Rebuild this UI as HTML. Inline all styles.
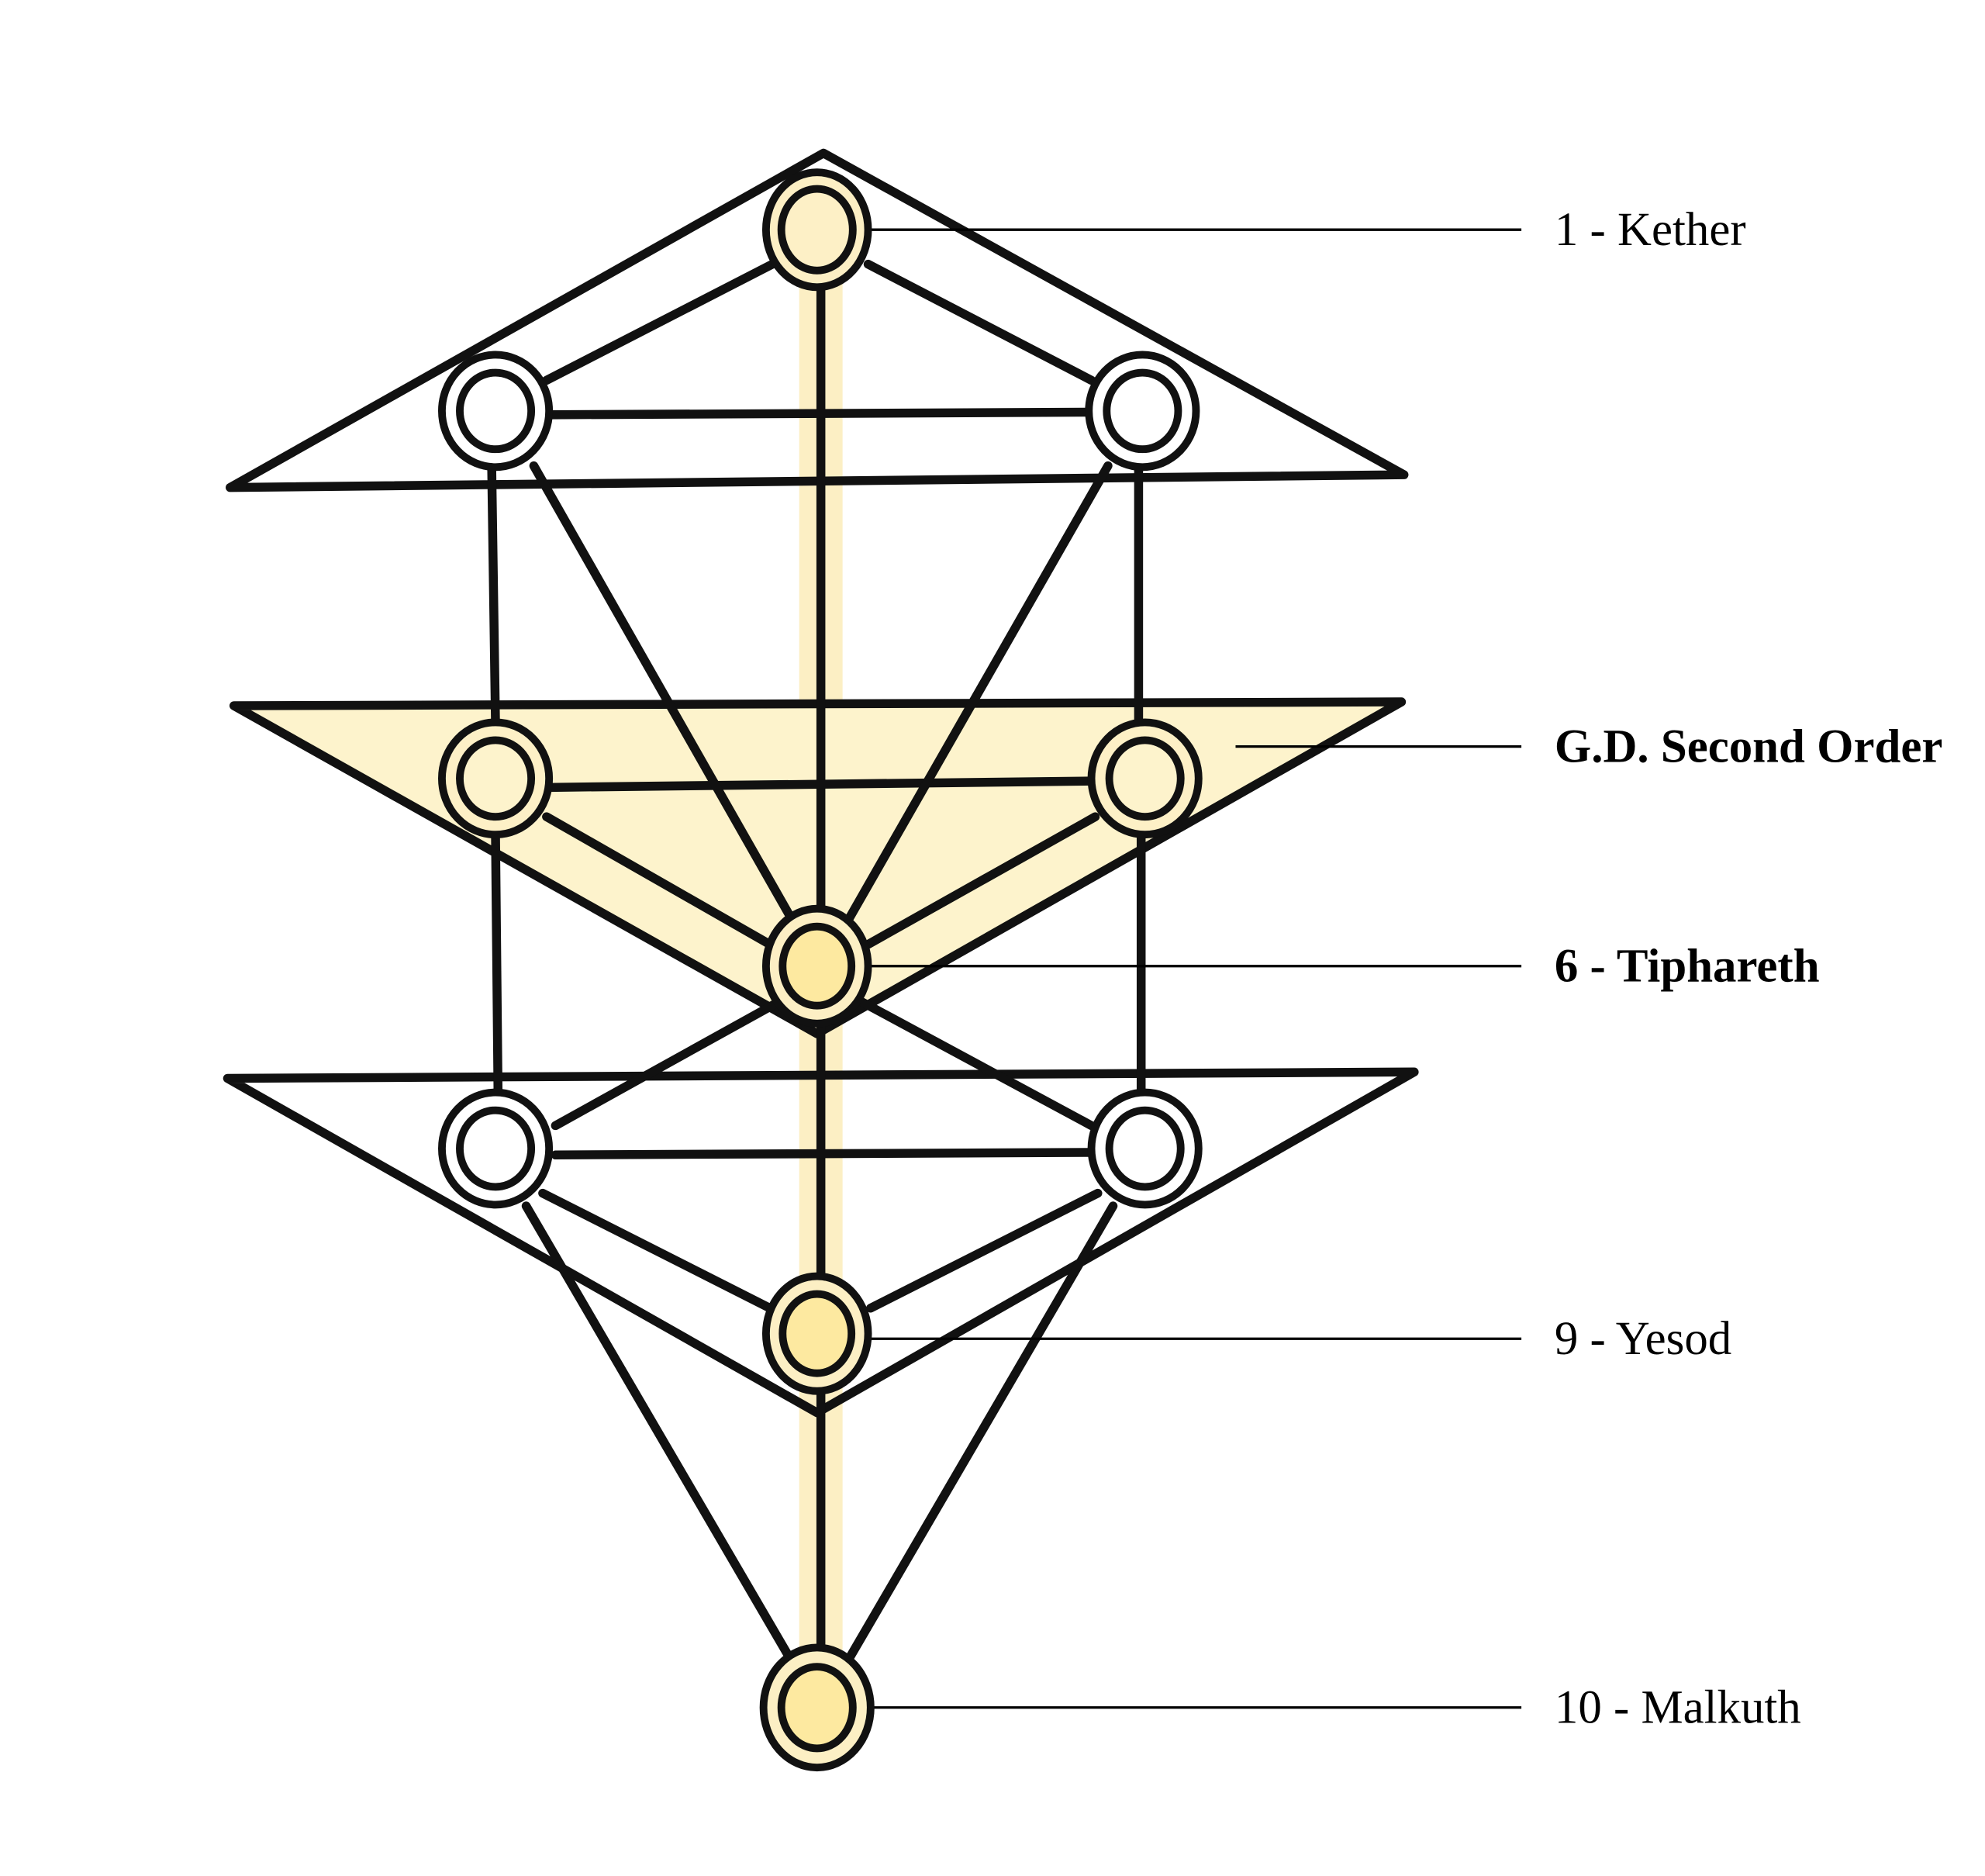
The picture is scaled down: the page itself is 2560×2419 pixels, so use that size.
<!DOCTYPE html>
<html><head><style>
html,body{margin:0;padding:0;background:#fff;}
svg{display:block;}
text{font-family:"Liberation Serif",serif;font-size:37px;fill:#000;}
</style></head><body>
<svg width="2560" height="2419" viewBox="0 0 1555 1470" xmlns="http://www.w3.org/2000/svg">
<rect width="1555" height="1470" fill="#fff"/>
<rect x="626" y="220" width="34" height="1135" fill="#fcefc4"/>
<polygon points="183,553 1098,550 640,810" fill="#fdf3cc"/>
<g stroke="#111" stroke-width="7" fill="none" stroke-linejoin="round" stroke-linecap="round">
<polygon points="645,120 1100,372 180,382"/>
<polygon points="183,553 1098,550 640,810"/>
<polygon points="178,845 1108,840 640,1107"/>
<line x1="643" y1="222" x2="643" y2="1300"/>
<line x1="605" y1="207" x2="428" y2="298"/>
<line x1="680" y1="207" x2="855" y2="298"/>
<line x1="430" y1="325" x2="850" y2="323"/>
<line x1="430" y1="617" x2="855" y2="612"/>
<line x1="435" y1="905" x2="855" y2="903"/>
<line x1="385" y1="365" x2="388" y2="568"/>
<line x1="892" y1="365" x2="892" y2="568"/>
<line x1="388" y1="655" x2="390" y2="858"/>
<line x1="894" y1="655" x2="894" y2="858"/>
<line x1="418" y1="365" x2="620" y2="720"/>
<line x1="868" y1="365" x2="665" y2="720"/>
<line x1="428" y1="640" x2="603" y2="740"/>
<line x1="858" y1="640" x2="680" y2="740"/>
<line x1="610" y1="785" x2="435" y2="882"/>
<line x1="675" y1="785" x2="855" y2="882"/>
<line x1="425" y1="935" x2="603" y2="1025"/>
<line x1="860" y1="935" x2="682" y2="1025"/>
<line x1="412" y1="945" x2="622" y2="1305"/>
<line x1="872" y1="945" x2="662" y2="1305"/>
</g>
<g stroke="#000" stroke-width="2">
<line x1="668" y1="180" x2="1192" y2="180"/>
<line x1="968" y1="585" x2="1192" y2="585"/>
<line x1="668" y1="757" x2="1192" y2="757"/>
<line x1="668" y1="1049" x2="1192" y2="1049"/>
<line x1="668" y1="1338" x2="1192" y2="1338"/>
</g>
<g stroke="#111" stroke-width="6">
<ellipse cx="640" cy="180" rx="40" ry="45" fill="#fcefc4"/>
<ellipse cx="640" cy="180" rx="28" ry="32" fill="#fdf0c6"/>
<ellipse cx="388" cy="322" rx="42" ry="44" fill="#fff"/>
<ellipse cx="388" cy="322" rx="28" ry="30" fill="#fff"/>
<ellipse cx="895" cy="322" rx="42" ry="44" fill="#fff"/>
<ellipse cx="895" cy="322" rx="28" ry="30" fill="#fff"/>
<ellipse cx="388" cy="610" rx="42" ry="44" fill="#fdf0c6"/>
<ellipse cx="388" cy="610" rx="28" ry="30" fill="#fdf3cc"/>
<ellipse cx="897" cy="610" rx="42" ry="44" fill="#fdf0c6"/>
<ellipse cx="897" cy="610" rx="28" ry="30" fill="#fdf3cc"/>
<ellipse cx="640" cy="757" rx="40" ry="45" fill="#fcefc4"/>
<ellipse cx="640" cy="757" rx="27" ry="31" fill="#fde9a0"/>
<ellipse cx="388" cy="900" rx="42" ry="44" fill="#fff"/>
<ellipse cx="388" cy="900" rx="28" ry="30" fill="#fff"/>
<ellipse cx="897" cy="900" rx="42" ry="44" fill="#fff"/>
<ellipse cx="897" cy="900" rx="28" ry="30" fill="#fff"/>
<ellipse cx="640" cy="1045" rx="40" ry="45" fill="#fcefc4"/>
<ellipse cx="640" cy="1045" rx="27" ry="31" fill="#fde9a0"/>
<ellipse cx="640" cy="1338" rx="42" ry="47" fill="#fcefc4"/>
<ellipse cx="640" cy="1338" rx="28" ry="32" fill="#fde9a0"/>
</g>
<text x="1218" y="192">1 - Kether</text>
<text x="1218" y="597" font-weight="bold">G.D. Second Order</text>
<text x="1218" y="769" font-weight="bold">6 - Tiphareth</text>
<text x="1218" y="1061">9 - Yesod</text>
<text x="1218" y="1350">10 - Malkuth</text>
</svg>
</body></html>
